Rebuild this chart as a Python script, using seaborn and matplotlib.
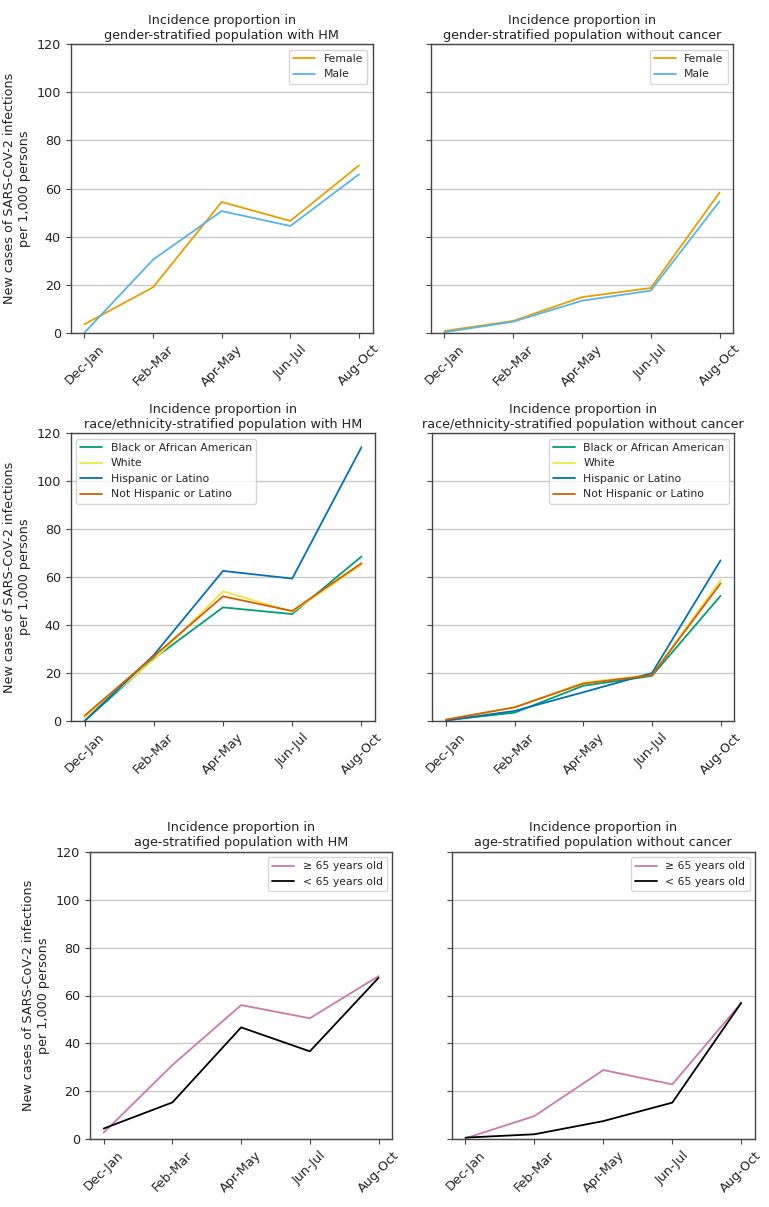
import pandas as pd
import matplotlib
matplotlib.use("Agg")
import matplotlib.pyplot as plt
import seaborn as sns

periods = ["Dec-Jan", "Feb-Mar", "Apr-May", "Jun-Jul", "Aug-Oct"]

# gender
gender_hm_female = [3.5, 18.9, 54.4, 46.5, 69.6]
gender_hm_male = [0.0, 30.4, 50.6, 44.4, 65.9]
gender_nc_female = [0.7, 4.9, 14.8, 18.6, 58.3]
gender_nc_male = [0.2, 4.6, 13.3, 17.5, 54.7]

# race / ethnicity
race_hm_black = [0.0, 26.0, 47.4, 44.6, 68.6]
race_hm_white = [1.5, 25.5, 54.1, 45.5, 65.2]
race_hm_hisp = [0.0, 27.5, 62.6, 59.4, 114.2]
race_hm_nothisp = [2.2, 27.0, 52.0, 45.9, 65.8]
race_nc_black = [0.3, 3.5, 14.7, 18.8, 52.2]
race_nc_white = [0.5, 5.7, 16.0, 19.3, 58.8]
race_nc_hisp = [0.2, 4.2, 12.0, 20.0, 67.0]
race_nc_nothisp = [0.6, 5.7, 15.6, 19.1, 57.4]

# age
age_hm_65plus = [2.8, 31.0, 56.0, 50.5, 68.1]
age_hm_under65 = [4.5, 15.4, 46.7, 36.7, 67.4]
age_nc_65plus = [0.4, 9.7, 28.9, 22.9, 56.9]
age_nc_under65 = [0.7, 2.1, 7.6, 15.3, 56.9]

gender_labels = ["Female", "Male"]
race_labels = ["Black or African American", "White", "Hispanic or Latino", "Not Hispanic or Latino"]
age_labels = ["\u2265 65 years old", "< 65 years old"]

gender_colors = ["#E69F00", "#56B4E9"]
race_colors = ["#009E73", "#F0E442", "#0072B2", "#D55E00"]
age_colors = ["#CC79A7", "#000000"]

sns.set_style("ticks")
plt.rcParams['font.family'] = ['DejaVu Sans']

W, H = 769, 1207
fig = plt.figure(figsize=(W / 100, H / 100), dpi=100)


def make_ax(x0, x1, y0, y1):
    return fig.add_axes([x0 / W, 1 - y1 / H, (x1 - x0) / W, (y1 - y0) / H])


panels = [
    (make_ax(70.7, 372.7, 44.3, 332.7), "Incidence proportion in\ngender-stratified population with HM",
     [gender_hm_female, gender_hm_male], gender_labels, gender_colors, "upper right", True),
    (make_ax(430.7, 733.3, 44.3, 332.7), "Incidence proportion in\ngender-stratified population without cancer",
     [gender_nc_female, gender_nc_male], gender_labels, gender_colors, "upper right", False),
    (make_ax(70.7, 375.3, 433.3, 721), "Incidence proportion in\nrace/ethnicity-stratified population with HM",
     [race_hm_black, race_hm_white, race_hm_hisp, race_hm_nothisp], race_labels, race_colors, "upper left", True),
    (make_ax(432.3, 734.3, 433.3, 721), "Incidence proportion in\nrace/ethnicity-stratified population without cancer",
     [race_nc_black, race_nc_white, race_nc_hisp, race_nc_nothisp], race_labels, race_colors, "upper right", False),
    (make_ax(90, 392.3, 851.7, 1139.3), "Incidence proportion in\nage-stratified population with HM",
     [age_hm_65plus, age_hm_under65], age_labels, age_colors, "upper right", True),
    (make_ax(451.7, 755, 851.7, 1139.3), "Incidence proportion in\nage-stratified population without cancer",
     [age_nc_65plus, age_nc_under65], age_labels, age_colors, "upper right", False),
]

for ax, title, series, labels, colors, loc, show_ylabel in panels:
    for vals, lab, col in zip(series, labels, colors):
        df = pd.DataFrame({"period": periods, "value": vals})
        sns.lineplot(data=df, x="period", y="value", color=col, label=lab,
                     sort=False, linewidth=1.3, ax=ax)
    ax.set_ylim(0, 120)
    ax.set_yticks(range(0, 121, 20))
    ax.set_xlim(-0.2, 4.2)
    ax.yaxis.grid(True, color="#c8c8c8", linewidth=1.0)
    ax.set_axisbelow(True)
    for s in ax.spines.values():
        s.set_visible(True)
        s.set_color("#444444")
        s.set_linewidth(1.0)
    ax.tick_params(axis="both", labelsize=9.2, colors="#444444", labelcolor="#222222", length=3.5)
    plt.setp(ax.get_xticklabels(), rotation=45, ha="center")
    ax.set_xlabel("")
    ax.set_title(title, fontsize=9.2, color="#222222", pad=4)
    if show_ylabel:
        ax.set_ylabel("New cases of SARS-CoV-2 infections\nper 1,000 persons", fontsize=9.2, color="#222222")
    else:
        ax.set_ylabel("")
        ax.set_yticklabels([])
    ax.legend(loc=loc, fontsize=7.8)

fig.savefig("out.png", dpi=100)
